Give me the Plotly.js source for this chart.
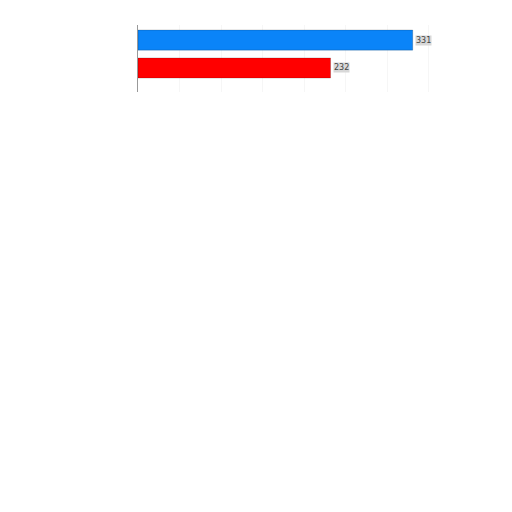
<!DOCTYPE html>
<html>
<head>
<meta charset="utf-8">
<script src="https://cdn.plot.ly/plotly-3.0.1.min.js"></script>
<style>
  html, body { margin: 0; padding: 0; background: #fff; }
  #chart { width: 512px; height: 512px; }
</style>
</head>
<body>
<div id="chart"></div>
<script>
// bottom to top, as plotly draws horizontal categories
var categories = ['B', 'A'];
var values = [232, 331];
var barColors = ['#ff0000', '#0a84f8'];
var labels = values.map(function (v) { return String(v); });

var trace = {
  type: 'bar',
  orientation: 'h',
  y: categories,
  x: values,
  width: 0.72,
  marker: { color: barColors, line: { color: 'rgba(0,0,0,0.18)', width: 1 } },
  hoverinfo: 'none'
};

var annotations = values.map(function (v, i) {
  return {
    x: v, y: categories[i], xref: 'x', yref: 'y',
    text: labels[i], showarrow: false,
    xanchor: 'left', xshift: 2,
    font: { family: 'DejaVu Sans', size: 8, color: '#444' },
    bgcolor: '#d8d8d8', borderpad: 0
  };
});

var layout = {
  width: 512, height: 512,
  margin: { l: 138, r: 42, t: 25, b: 420 },
  paper_bgcolor: '#fff', plot_bgcolor: '#fff',
  showlegend: false,
  xaxis: {
    range: [0, 400], dtick: 50, showgrid: true, gridcolor: '#f6f6f6',
    showticklabels: false, zeroline: false, showline: false, ticks: ''
  },
  yaxis: {
    type: 'category', range: [-0.86, 1.54],
    showticklabels: false, showgrid: false, zeroline: false,
    showline: true, linecolor: '#999', linewidth: 1, ticks: ''
  },
  annotations: annotations
};

Plotly.newPlot('chart', [trace], layout, { displayModeBar: false, staticPlot: true });
</script>
</body>
</html>
